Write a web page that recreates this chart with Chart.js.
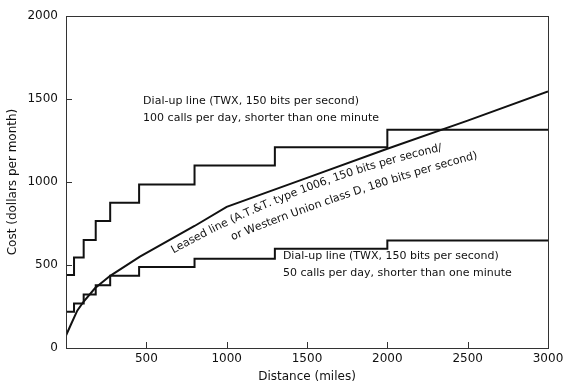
<!DOCTYPE html>
<html>
<head>
<meta charset="utf-8">
<script src="https://cdn.jsdelivr.net/npm/chart.js@4.4.0/dist/chart.umd.min.js"></script>
<style>
  html, body { margin: 0; padding: 0; background: #fff; }
  #wrap { width: 564px; height: 386px; }
</style>
</head>
<body>
<div id="wrap"><canvas id="chart" width="564" height="386"></canvas></div>
<script>
// Mileage breakpoints where the TWX rate steps up
const stepMiles = [0, 50, 110, 185, 275, 455, 800, 1300, 2000, 3000];
const dialUp100Cost = [440, 545, 650, 765, 875, 985, 1100, 1210, 1315, 1315];
const dialUp50Cost = [218, 268, 322, 378, 435, 488, 538, 598, 648, 648];

// Leased line cost curve
const leasedMiles = [0, 30, 70, 110, 180, 275, 460, 800, 1000, 1500, 2000, 2500, 3000];
const leasedCost = [75, 140, 225, 280, 360, 435, 550, 735, 850, 1025, 1200, 1370, 1545];

const xTicks = [500, 1000, 1500, 2000, 2500, 3000];
const yTicks = [0, 500, 1000, 1500, 2000];

const ink = '#111';
const fontFamily = '"DejaVu Sans", sans-serif';
const noteFont = '11px ' + fontFamily;

const toPoints = (xs, ys) => xs.map((x, i) => ({ x: x, y: ys[i] }));

// curve labels, anchored in data units
const notes = [
    { lines: ['Dial-up line (TWX, 150 bits per second)', '100 calls per day, shorter than one minute'], x: 480, y: 1490 },
    { lines: ['Dial-up line (TWX, 150 bits per second)', '50 calls per day, shorter than one minute'], x: 1350, y: 555 }
];
// the leased-line label bends along the curve: start point (data units), start and end angle
const leasedNotes = [
    { text: 'Leased line (A.T.&T. type 1006, 150 bits per second/', x: 660, y: 585, a0: -29, a1: -13 },
    { text: 'or Western Union class D, 180 bits per second)', x: 1030, y: 665, a0: -22, a1: -15 }
];

function drawBentText(ctx, text, x0, y0, a0, a1) {
    const total = ctx.measureText(text).width;
    let s = 0, px = x0, py = y0;
    for (const ch of text) {
        const w = ctx.measureText(ch).width;
        const a = (a0 + (a1 - a0) * (s + w / 2) / total) * Math.PI / 180;
        ctx.save();
        ctx.translate(px, py);
        ctx.rotate(a);
        ctx.fillText(ch, 0, 0);
        ctx.restore();
        px += w * Math.cos(a);
        py += w * Math.sin(a);
        s += w;
    }
}

const framePlugin = {
    id: 'frame',
    afterDraw(chart) {
        const { ctx, chartArea: a, scales: { x, y } } = chart;
        ctx.save();
        ctx.strokeStyle = '#333';
        ctx.lineWidth = 1;
        ctx.strokeRect(a.left + 0.5, a.top + 0.5, a.right - a.left, a.bottom - a.top);

        // short inward tick marks
        ctx.beginPath();
        [500, 1000, 1500, 2000, 2500].forEach(v => {
            const px = Math.round(x.getPixelForValue(v)) + 0.5;
            ctx.moveTo(px, a.bottom);
            ctx.lineTo(px, a.bottom - 6);
        });
        [500, 1000, 1500].forEach(v => {
            const py = Math.round(y.getPixelForValue(v)) + 0.5;
            ctx.moveTo(a.left, py);
            ctx.lineTo(a.left + 6, py);
        });
        ctx.stroke();

        ctx.fillStyle = ink;
        ctx.font = noteFont;
        ctx.textAlign = 'left';
        ctx.textBaseline = 'middle';
        notes.forEach(n => {
            const px = x.getPixelForValue(n.x);
            const py = y.getPixelForValue(n.y);
            n.lines.forEach((t, i) => ctx.fillText(t, px, py + i * 17));
        });
        leasedNotes.forEach(n => {
            drawBentText(ctx, n.text, x.getPixelForValue(n.x), y.getPixelForValue(n.y), n.a0, n.a1);
        });
        ctx.restore();
    }
};

new Chart(document.getElementById('chart'), {
    type: 'line',
    data: {
        datasets: [
            {
                label: 'Dial-up 100 calls',
                data: toPoints(stepMiles, dialUp100Cost),
                stepped: true,
                borderColor: ink,
                borderWidth: 2,
                pointRadius: 0,
                fill: false
            },
            {
                label: 'Dial-up 50 calls',
                data: toPoints(stepMiles, dialUp50Cost),
                stepped: true,
                borderColor: ink,
                borderWidth: 2,
                pointRadius: 0,
                fill: false
            },
            {
                label: 'Leased line',
                data: toPoints(leasedMiles, leasedCost),
                borderColor: ink,
                borderWidth: 2,
                pointRadius: 0,
                tension: 0,
                fill: false
            }
        ]
    },
    options: {
        responsive: false,
        animation: false,
        devicePixelRatio: 1,
        layout: { padding: { top: 16, right: 16, left: 0, bottom: 0 } },
        plugins: { legend: { display: false }, tooltip: { enabled: false } },
        scales: {
            x: {
                type: 'linear',
                min: 0,
                max: 3000,
                afterBuildTicks: s => { s.ticks = xTicks.map(v => ({ value: v })); },
                afterFit: s => { s.height = 38; s.paddingLeft = 0; s.paddingRight = 0; },
                grid: { display: false, drawTicks: false },
                border: { display: true, color: '#333', width: 1 },
                ticks: {
                    color: ink, padding: 4, maxRotation: 0,
                    callback: v => String(v),
                    font: { family: fontFamily, size: 12 }
                },
                title: { display: true, text: 'Distance (miles)', color: ink, padding: { top: 0, bottom: 2 }, font: { family: fontFamily, size: 12 } }
            },
            y: {
                min: 0,
                max: 2000,
                afterBuildTicks: s => { s.ticks = yTicks.map(v => ({ value: v })); },
                afterFit: s => { s.width = 66; s.paddingTop = 0; s.paddingBottom = 0; },
                grid: { display: false, drawTicks: false },
                border: { display: true, color: '#333', width: 1 },
                ticks: {
                    color: ink, padding: 8,
                    callback: v => String(v),
                    font: { family: fontFamily, size: 12 }
                },
                title: { display: true, text: 'Cost (dollars per month)', color: ink, padding: { top: 6, bottom: 0 }, font: { family: fontFamily, size: 12 } }
            }
        }
    },
    plugins: [framePlugin]
});
</script>
</body>
</html>
